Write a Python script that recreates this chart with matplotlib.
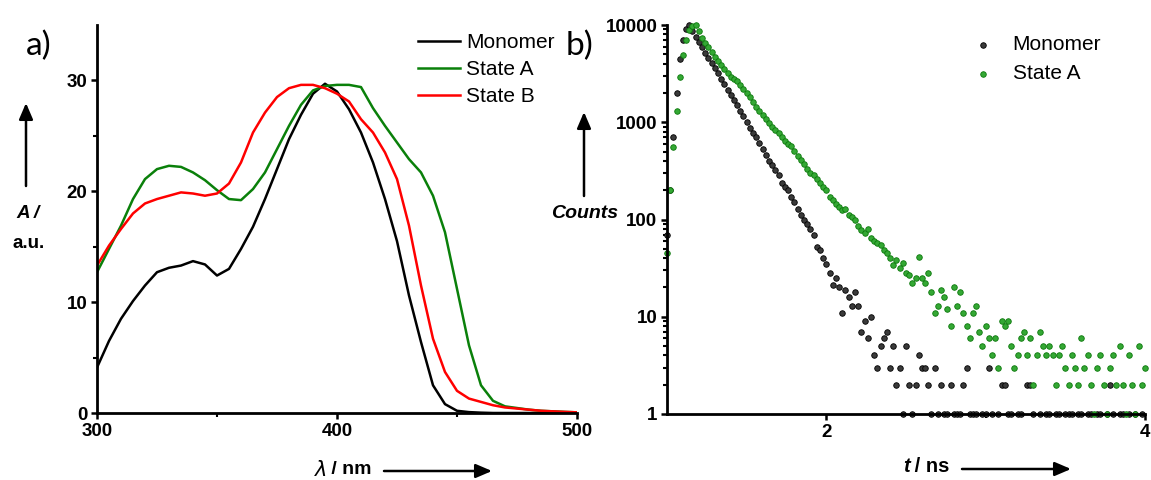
import numpy as np
import matplotlib
matplotlib.use("Agg")
import matplotlib.pyplot as plt
from matplotlib.ticker import FixedLocator, LogLocator, NullFormatter

plt.rcParams['font.family'] = ['Liberation Sans', 'DejaVu Sans']

# ---------------- a) absorption spectra ----------------
wavelength = [300, 305, 310, 315, 320, 325, 330, 335, 340, 345,
              350, 355, 360, 365, 370, 375, 380, 385, 390, 395,
              400, 405, 410, 415, 420, 425, 430, 435, 440, 445,
              450, 455, 460, 465, 470, 475, 480, 485, 490, 495, 500]

abs_monomer = [4.1, 6.5, 8.5, 10.1, 11.5, 12.7, 13.1, 13.3, 13.7, 13.4,
               12.4, 13.0, 14.8, 16.8, 19.3, 22.0, 24.7, 26.9, 28.8, 29.7,
               29.0, 27.4, 25.3, 22.6, 19.3, 15.5, 10.6, 6.4, 2.5, 0.8,
               0.2, 0.08, 0.03, 0.0, 0.0, 0.0, 0.0, 0.0, 0.0, 0.0, 0.0]

abs_state_a = [12.7, 14.8, 16.9, 19.3, 21.1, 22.0, 22.3, 22.2, 21.7, 21.0,
               20.1, 19.3, 19.2, 20.2, 21.7, 23.8, 25.9, 27.8, 29.1, 29.5,
               29.6, 29.6, 29.4, 27.5, 25.9, 24.4, 22.9, 21.7, 19.6, 16.3,
               11.2, 6.1, 2.5, 1.1, 0.6, 0.45, 0.3, 0.2, 0.15, 0.1, 0.06]

abs_state_b = [13.3, 15.1, 16.6, 18.0, 18.9, 19.3, 19.6, 19.9, 19.8, 19.6,
               19.8, 20.7, 22.6, 25.3, 27.1, 28.5, 29.3, 29.6, 29.6, 29.3,
               28.8, 28.1, 26.5, 25.3, 23.5, 21.1, 16.9, 11.5, 6.7, 3.7,
               2.0, 1.3, 1.0, 0.7, 0.5, 0.4, 0.3, 0.2, 0.15, 0.1, 0.06]

# ---------------- b) fluorescence decays ----------------
t_start = 1.0    # ns, first channel
t_step = 0.02    # ns per channel

counts_monomer = [
    70, 200, 700, 2000, 4500, 7000, 9000, 10000, 8600, 7600,
    6700, 5900, 5200, 4600, 4100, 3600, 3200, 2800, 2450, 2150,
    1900, 1700, 1500, 1320, 1150, 1000, 880, 780, 700, 610,
    530, 460, 400, 360, 320, 285, 240, 215, 200, 170,
    150, 128, 110, 100, 90, 80, 70, 52, 48, 40,
    35, 28, 21, 25, 20, 11, 19, 16, 13, 18,
    13, 7, 9, 6, 10, 4, 3, 5, 6, 7,
    3, 5, 2, 3, 1, 5, 2, 1, 2, 4,
    3, 3, 2, 1, 3, 1, 2, 1, 1, 2,
    1, 1, 1, 2, 3, 1, 1, 1, 0, 1,
    1, 3, 1, 0, 1, 2, 2, 1, 1, 0,
    1, 1, 0, 2, 2, 1, 0, 1, 0, 1,
    1, 0, 1, 1, 0, 1, 1, 1, 0, 1,
    1, 0, 1, 1, 0, 1, 1, 0, 1, 2,
    1, 0, 1, 1, 0, 1, 0, 1, 0, 1,
    0]

counts_state_a = [
    45, 200, 550, 1300, 2900, 4900, 7000, 8800, 9800, 10000,
    8600, 7400, 6600, 5900, 5300, 4700, 4250, 3850, 3500, 3200,
    2950, 2800, 2650, 2400, 2200, 2000, 1800, 1600, 1450, 1300,
    1200, 1080, 980, 900, 840, 780, 700, 640, 600, 570,
    510, 450, 410, 370, 330, 300, 285, 260, 235, 215,
    200, 170, 158, 145, 135, 125, 128, 112, 105, 98,
    85, 78, 72, 80, 64, 60, 58, 55, 48, 45,
    40, 34, 38, 32, 36, 28, 27, 22, 25, 41,
    25, 22, 28, 18, 11, 13, 19, 16, 12, 8,
    20, 13, 18, 11, 8, 6, 11, 13, 7, 5,
    8, 6, 4, 6, 3, 9, 8, 9, 5, 3,
    4, 6, 7, 4, 6, 2, 4, 7, 5, 4,
    5, 4, 2, 4, 5, 3, 2, 4, 3, 2,
    6, 3, 4, 2, 1, 3, 4, 2, 1, 3,
    4, 2, 5, 2, 1, 4, 2, 1, 5, 2,
    3]

W, H = 1151, 480
fig = plt.figure(figsize=(W / 100, H / 100), dpi=100)


def fx(px):
    return px / W


def fy(py):
    return 1 - py / H


def style_axes(ax):
    for side in ('top', 'right'):
        ax.spines[side].set_visible(False)
    for side in ('left', 'bottom'):
        ax.spines[side].set_linewidth(2.0)
    ax.tick_params(which='major', direction='out', length=4, width=1.8,
                   labelsize=13.5, pad=3)
    ax.tick_params(which='minor', direction='out', length=3, width=1.5)
    for lab in ax.get_xticklabels() + ax.get_yticklabels():
        lab.set_fontweight('bold')


# ---- panel a ----
axA = fig.add_axes([fx(97), fy(413), fx(480), (413 - 25) / H])
axA.plot(wavelength, abs_monomer, color='black', lw=1.8, label='Monomer')
axA.plot(wavelength, abs_state_a, color='#0a800a', lw=1.8, label='State A')
axA.plot(wavelength, abs_state_b, color='#ff0000', lw=1.8, label='State B')
axA.set_xlim(300, 500)
axA.set_ylim(0, 35)
axA.xaxis.set_major_locator(FixedLocator([300, 400, 500]))
axA.xaxis.set_minor_locator(FixedLocator([350, 450]))
axA.yaxis.set_major_locator(FixedLocator([0, 10, 20, 30]))
axA.yaxis.set_minor_locator(FixedLocator([5, 15, 25]))
style_axes(axA)
axA.legend(loc='upper left', bbox_to_anchor=(fx(418), fy(33)),
           bbox_transform=fig.transFigure, frameon=False, fontsize=15,
           handlelength=2.0, handletextpad=0.3, labelspacing=0.39,
           borderpad=0, borderaxespad=0)

# ---- panel b ----
axB = fig.add_axes([fx(667), fy(414), fx(478), (414 - 25) / H])
cm = np.array(counts_monomer, dtype=float)
ca = np.array(counts_state_a, dtype=float)
tm = t_start + t_step * np.arange(len(cm))
ta = t_start + t_step * np.arange(len(ca))
axB.scatter(tm[cm > 0], cm[cm > 0], s=16, facecolor='#3a3a3a',
            edgecolor='#000000', linewidths=0.6, clip_on=False, zorder=2,
            label='Monomer')
axB.scatter(ta[ca > 0], ca[ca > 0], s=16, facecolor='#34a834',
            edgecolor='#0b780b', linewidths=0.6, clip_on=False, zorder=2,
            label='State A')
axB.set_yscale('log')
axB.set_xlim(1, 4)
axB.set_ylim(1, 10000)
axB.xaxis.set_major_locator(FixedLocator([2, 4]))
axB.xaxis.set_minor_locator(FixedLocator([3]))
axB.yaxis.set_major_locator(FixedLocator([1, 10, 100, 1000, 10000]))
axB.yaxis.set_minor_locator(LogLocator(base=10, subs=np.arange(2, 10)))
axB.yaxis.set_minor_formatter(NullFormatter())
axB.set_yticklabels(['1', '10', '100', '1000', '10000'])
axB.set_xticklabels(['2', '4'])
style_axes(axB)
axB.legend(loc='upper left', bbox_to_anchor=(fx(973), fy(35)),
           bbox_transform=fig.transFigure, frameon=False, fontsize=15,
           handlelength=1.0, handletextpad=0.9, labelspacing=0.5,
           borderpad=0, borderaxespad=0, scatterpoints=1, markerscale=1.0)

# ---- panel labels and axis titles ----
fig.text(fx(26), fy(46), 'a)', fontsize=24, family=['Lato', 'DejaVu Sans'],
         va='center', ha='left')
fig.text(fx(566), fy(46), 'b)', fontsize=24, family=['Lato', 'DejaVu Sans'],
         va='center', ha='left')

fig.text(fx(28), fy(213), 'A /', fontsize=13.5, fontweight='bold',
         fontstyle='italic', ha='center', va='center')
fig.text(fx(29), fy(243), 'a.u.', fontsize=13.5, fontweight='bold',
         ha='center', va='center')
fig.text(fx(585), fy(213), 'Counts', fontsize=14, fontweight='bold',
         fontstyle='italic', ha='center', va='center')

fig.text(fx(327), fy(470), r'$\lambda$', fontsize=15, ha='right', va='center')
fig.text(fx(326), fy(470), ' / nm', fontsize=14, fontweight='bold',
         ha='left', va='center')
fig.text(fx(910), fy(466), 't', fontsize=14.5, fontweight='bold',
         fontstyle='italic', ha='right', va='center')
fig.text(fx(909), fy(466), ' / ns', fontsize=14.5, fontweight='bold',
         ha='left', va='center')

arrow_kw = dict(arrowstyle='-|>,head_length=0.7,head_width=0.3', lw=1.8,
                color='black', shrinkA=0, shrinkB=0)
fig.add_artist(matplotlib.patches.FancyArrowPatch(
    (fx(26), fy(186)), (fx(26), fy(103)), transform=fig.transFigure,
    mutation_scale=14, **arrow_kw))
fig.add_artist(matplotlib.patches.FancyArrowPatch(
    (fx(584), fy(196)), (fx(584), fy(112)), transform=fig.transFigure,
    mutation_scale=14, **arrow_kw))
fig.add_artist(matplotlib.patches.FancyArrowPatch(
    (fx(384), fy(471)), (fx(492), fy(471)), transform=fig.transFigure,
    mutation_scale=14, **arrow_kw))
fig.add_artist(matplotlib.patches.FancyArrowPatch(
    (fx(962), fy(469)), (fx(1071), fy(469)), transform=fig.transFigure,
    mutation_scale=14, **arrow_kw))

fig.savefig('out.png', dpi=100)
